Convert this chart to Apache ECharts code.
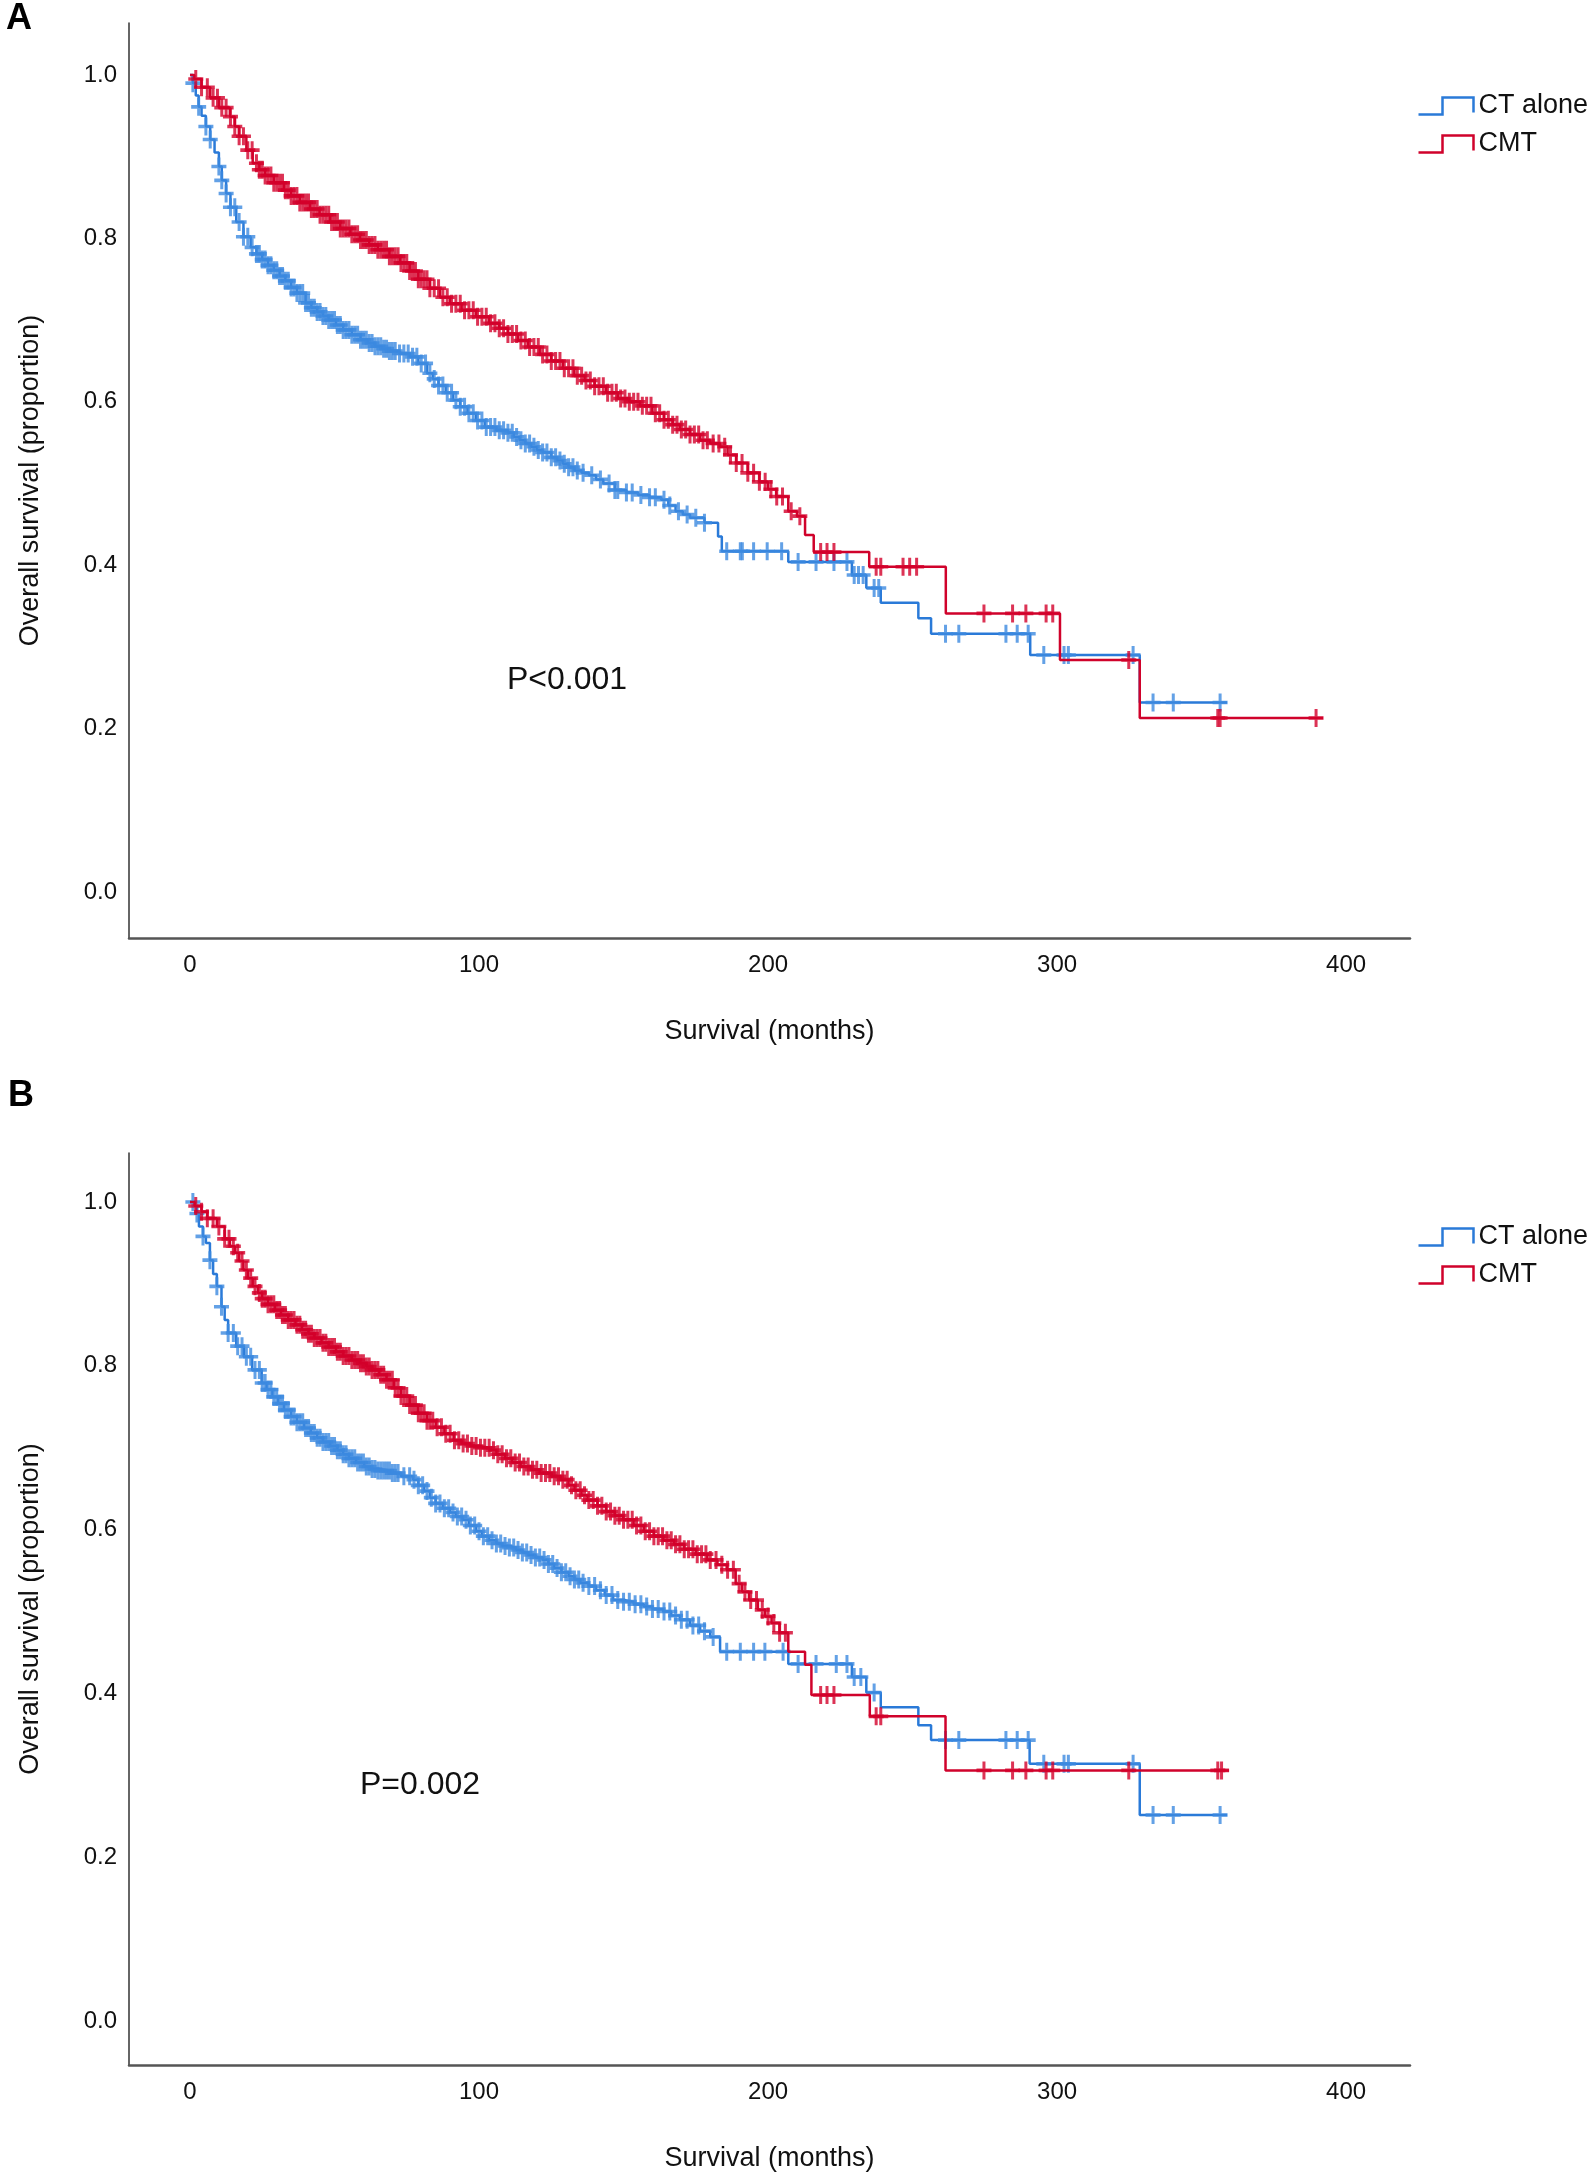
<!DOCTYPE html>
<html><head><meta charset="utf-8">
<script src="https://cdn.jsdelivr.net/npm/echarts@6/dist/echarts.min.js"></script>
<style>html,body{margin:0;padding:0;background:#fff}#chart{width:1594px;height:2174px}</style>
</head><body><div id="chart"></div>
<script>
// ---------- data ----------
const seriesNames = ['CT alone', 'CMT'];
const xTickValues = [0, 100, 200, 300, 400];
const yTickValues = [0, 0.2, 0.4, 0.6, 0.8, 1.0];
const xAxisTitle = 'Survival (months)';
const yAxisTitle = 'Overall survival (proportion)';
const panelLabels = ['A', 'B'];
const pValues = ['P<0.001', 'P=0.002'];

// Kaplan-Meier steps [months, survival] - panel A
const kmA_CT = [[0,1.0],[1,0.99],[2,0.975],[3,0.961],[4,0.95],[5.5,0.937],[7,0.921],[8.5,0.905],[10,0.888],[11,0.871],[12.5,0.855],[14,0.838],[16,0.82],[18.5,0.802],[21,0.789],[23,0.781],[25,0.774],[27,0.767],[29,0.761],[31,0.754],[33,0.748],[35,0.740],[37,0.733],[40,0.721],[42,0.715],[44,0.71],[46,0.705],[48,0.700],[50.5,0.694],[53,0.688],[56,0.682],[59,0.676],[61.5,0.672],[64,0.668],[66.5,0.665],[69,0.662],[72.5,0.659],[76,0.655],[79,0.647],[82,0.635],[84,0.628],[86,0.62],[88.5,0.611],[91,0.602],[93.5,0.594],[96,0.586],[99,0.577],[102,0.569],[106,0.565],[110,0.562],[112,0.557],[114,0.553],[116,0.549],[118,0.545],[120,0.541],[122,0.538],[125,0.532],[127,0.528],[129,0.524],[131,0.520],[133,0.516],[135.5,0.513],[138,0.510],[140.5,0.505],[143,0.5],[147,0.492],[151,0.489],[155,0.486],[159,0.483],[163,0.48],[165.5,0.473],[168,0.466],[170.5,0.462],[173,0.458],[178,0.452],[182.7,0.435],[184,0.417],[207,0.404],[229,0.388],[234,0.372],[239,0.354],[252,0.335],[256.4,0.316],[290.7,0.290],[328.6,0.232],[358.8,0.232]];
const kmA_CMT = [[0,1.0],[1.5,0.995],[4,0.985],[7,0.972],[10,0.96],[13.8,0.949],[15.5,0.937],[17,0.925],[19.5,0.908],[21.7,0.892],[24,0.884],[26,0.877],[29,0.868],[32.5,0.859],[35,0.852],[38,0.844],[41.5,0.836],[44.8,0.829],[48.5,0.820],[52,0.812],[55.5,0.805],[58.8,0.798],[62,0.792],[65,0.786],[69,0.778],[72.7,0.770],[76,0.760],[79,0.75],[83,0.739],[86.5,0.728],[90,0.720],[94,0.712],[99,0.704],[103.5,0.696],[107,0.690],[110,0.683],[113.5,0.675],[117,0.667],[121,0.658],[125,0.65],[129,0.641],[133,0.632],[136.5,0.626],[140,0.619],[144,0.611],[148,0.604],[152,0.600],[155.7,0.595],[160,0.586],[164,0.578],[167,0.572],[169.5,0.566],[173,0.560],[176.5,0.553],[180,0.549],[183.4,0.545],[186,0.535],[189,0.525],[193,0.513],[197,0.502],[200,0.493],[202.8,0.484],[207,0.466],[210,0.46],[212.8,0.437],[215.8,0.416],[235,0.398],[261.5,0.341],[301,0.284],[328.6,0.213],[392,0.213]];
// panel B
const kmB_CT = [[0,1.0],[1.6,0.995],[2.4,0.986],[3.1,0.97],[4.5,0.958],[5.5,0.95],[6.9,0.929],[8,0.912],[9.3,0.897],[10.9,0.872],[12,0.856],[13.2,0.84],[16,0.824],[18.6,0.811],[21.5,0.795],[24.8,0.779],[26.5,0.771],[28.5,0.762],[30.5,0.754],[32.5,0.746],[35,0.738],[37,0.731],[39.5,0.724],[41.8,0.718],[44,0.712],[46,0.707],[48.5,0.702],[51,0.697],[53,0.692],[55,0.687],[57.5,0.682],[60.3,0.677],[62.5,0.674],[65,0.672],[69.5,0.669],[73,0.665],[77.2,0.661],[79,0.654],[81,0.647],[83,0.639],[85,0.632],[87.5,0.626],[90,0.621],[92,0.616],[94.3,0.612],[96.5,0.605],[99,0.598],[101,0.592],[103.5,0.587],[106,0.583],[108,0.58],[110.5,0.578],[112.8,0.575],[115,0.572],[117,0.569],[119.5,0.566],[122,0.563],[124,0.558],[126,0.553],[128.5,0.548],[131,0.543],[133,0.539],[135,0.535],[138,0.531],[140.5,0.526],[143.5,0.520],[146.4,0.514],[150,0.512],[153.5,0.509],[157,0.506],[160,0.503],[163.7,0.500],[166.5,0.495],[169.5,0.49],[173,0.483],[176.5,0.476],[180,0.469],[183.4,0.451],[207,0.436],[229,0.420],[234,0.401],[239,0.383],[252,0.361],[256.4,0.343],[290.5,0.314],[328.6,0.2515],[358.8,0.2515]];
const kmB_CMT = [[0,1.0],[1.6,0.995],[4,0.988],[6,0.98],[9.3,0.970],[12,0.955],[13.8,0.946],[15.5,0.938],[17,0.928],[18.5,0.917],[20,0.907],[21.7,0.897],[23.5,0.889],[25,0.882],[27,0.875],[29.4,0.868],[31.5,0.862],[34,0.856],[36.5,0.850],[38.7,0.844],[41,0.839],[43,0.834],[45.5,0.828],[48,0.823],[50.5,0.817],[53,0.812],[56,0.807],[58.8,0.803],[61,0.799],[63,0.795],[65.5,0.789],[68,0.783],[70.5,0.773],[73,0.763],[76,0.752],[78.9,0.742],[82,0.733],[85,0.725],[88,0.717],[91.2,0.709],[94,0.705],[97,0.702],[100,0.700],[103.6,0.697],[106,0.692],[109,0.687],[111.5,0.682],[114.4,0.677],[118,0.673],[121,0.669],[125,0.665],[128.3,0.661],[131,0.654],[133,0.648],[135.5,0.642],[137.5,0.636],[141,0.629],[144,0.622],[147,0.617],[149.9,0.612],[153.5,0.605],[157,0.598],[160.5,0.592],[163.8,0.587],[167.5,0.582],[171,0.576],[175,0.570],[179,0.563],[182.5,0.557],[185.7,0.551],[188.8,0.534],[191,0.524],[193.4,0.514],[196.5,0.502],[199,0.494],[201.2,0.486],[204,0.474],[207,0.451],[212.8,0.435],[215,0.398],[235.2,0.372],[261.4,0.306],[359.5,0.306]];

// censoring times (months)
const censorA_CT = [1,3,5.5,7,10,11,12.5,14,15.5,17,18.5,20,21.5,23,24,25,26,27,28,29,30,31,32,33,34,35,36,37,38,39,40,41,42,43,44,45,46,47,48,49,50,51,52,53,54,55,56,57,58,59,60,61,62,63,64,65,66,67,68,69,70,71,72.5,74,75.5,77,78.5,80,81.5,83,84.5,86,87.5,89,90.5,92,93.5,95,96.5,98,99.5,101,102.5,104,105.5,107,108.5,110,111.5,113,114.5,116,117.5,119,120.5,122,123.5,125,126.5,128,129.5,131,132.5,134,136,139,142,145,147,148,151,153,156,159,161,164,166,169,172,175,178,185.7,190.4,191.1,195,199.7,204.7,210.4,216.6,222.8,227.3,229.8,231.3,232.9,236.7,238.3,261.4,266,282.3,286.2,290,295.4,302.4,303.9,326.3,333.2,340.2,356.4];
const censorA_CMT = [2,4,6,8,9.5,11,12.5,14,15.5,17,18.5,20,21.5,23,24,25,26,27,28,29,30,31,32,33,34,35,36,37,38,39,40,41,42,43,44,45,46,47,48,49,50,51,52,53,54,55,56,57,58,59,60,61,62,63,64,65,66,67,68,69,70,71,72,73,74,75,76,77,78,79,80,81,82,83,84.5,86,87.5,89,90.5,92,93.5,95,96.5,98,99.5,101,102.5,104,105.5,107,108.5,110,111.5,113,114.5,116,117.5,119,120.5,122,123.5,125,126.5,128,129.5,131,132.5,134,135.5,137,138.5,140,141.5,143,144.5,146,147.5,149,150.5,152,153.5,155,156.5,158,159.5,161,162.5,164,165.5,167,168.5,170,171.5,173,174.5,176,177.5,179,181,183,185,187,189,191,193,195,197,199,201,203,205,208,211,218.2,220.4,222.8,237.4,239,246.7,249,251.4,274.7,284.6,289.2,296.2,298.5,324.8,355.6,356.4,389.6];
const censorB_CT = [1,2.4,4.5,6.9,9.3,10.9,13.2,15,16.5,18,19.5,21,22.5,24,25,26,27,28,29,30,31,32,33,34,35,36,37,38,39,40,41,42,43,44,45,46,47,48,49,50,51,52,53,54,55,56,57,58,59,60,61,62,63,64,65,66,67,68,69,70,71,72,74,76,77.5,79,80.5,82,83.5,85,86.5,88,89.5,91,92.5,94,95.5,97,98.5,100,101.5,103,104.5,106,107.5,109,110.5,112,113.5,115,116.5,118,119.5,121,122.5,124,125.5,127,128.5,130,131.5,133,134.5,136,138,140,142,144,146,148,150,152,154,156,158,160,162,164,166,168,170,172,174,176,178,181,185.7,190.4,195,198.9,205.2,210.4,216.6,223.6,227.3,229.8,232.1,236.7,261.4,266,282.3,286.2,290,295.4,302.4,303.9,326.3,333.2,340.2,356.4];
const censorB_CMT = [2,4,6,8,10,12,13.5,15,16.5,18,19.5,21,22.5,24,25,26,27,28,29,30,31,32,33,34,35,36,37,38,39,40,41,42,43,44,45,46,47,48,49,50,51,52,53,54,55,56,57,58,59,60,61,62,63,64,65,66,67,68,69,70,71,72,73,74,75,76,77,78,79,80,81,82,83,84,85.5,87,88.5,90,91.5,93,94.5,96,97.5,99,100.5,102,103.5,105,106.5,108,109.5,111,112.5,114,115.5,117,118.5,120,121.5,123,124.5,126,127.5,129,130.5,132,133.5,135,136.5,138,139.5,141,142.5,144,145.5,147,148.5,150,151.5,153,154.5,156,157.5,159,160.5,162,163.5,165,166.5,168,169.5,171,172.5,174,175.5,177,178.5,180,182,184,186,188,190,192,194,196,198,200,202,204,206,218.2,220.4,222.8,237.4,239,274.7,284.6,289.2,296.2,298.5,324.8,355.6,356.9];

// ---------- helpers ----------
function survivalAt(curve, t) {
  let s = curve[0][1];
  for (const [ti, si] of curve) { if (ti <= t) s = si; else break; }
  return s;
}
function censorPoints(curve, times) { return times.map(t => [t, survivalAt(curve, t)]); }

const BLUE_LINE = '#2a7ad8', BLUE_MARK = '#3c8ae0';
const RED_LINE = '#d0022b', RED_MARK = '#d3002a';
const FONT = "'Liberation Sans', Arial, sans-serif";
const CROSS = 'path://M4,0 H6 V4 H10 V6 H6 V10 H4 V6 H0 V4 H4 Z';
const LEGEND_ICON = 'path://M0,17 L24,17 L24,0 L55,0 L55,15';

const panels = [
  {ct: kmA_CT, cmt: kmA_CMT, cCT: censorA_CT, cCMT: censorA_CMT, top: 23, height: 915, ymin: -0.0563, ymax: 1.0636},
  {ct: kmB_CT, cmt: kmB_CMT, cCT: censorB_CT, cCMT: censorB_CMT, top: 1153, height: 912, ymin: -0.0537, ymax: 1.0598}
];

const grid = [], xAxis = [], yAxis = [], series = [];
panels.forEach((p, i) => {
  grid.push({left: 129, top: p.top, width: 1281, height: p.height, outerBoundsMode: 'none'});
  xAxis.push({
    gridIndex: i, type: 'value', min: -21.1, max: 422.1,
    name: xAxisTitle, nameLocation: 'middle', nameGap: 80,
    nameTextStyle: {fontFamily: FONT, fontSize: 27, color: '#111'},
    axisLine: {show: true, onZero: false, lineStyle: {color: '#555', width: 2.5}},
    axisTick: {show: false}, splitLine: {show: false},
    axisLabel: {customValues: xTickValues, fontFamily: FONT, fontSize: 24, color: '#111', margin: 15}
  });
  yAxis.push({
    gridIndex: i, type: 'value', min: p.ymin, max: p.ymax,
    name: yAxisTitle, nameLocation: 'middle', nameGap: 85,
    nameTextStyle: {fontFamily: FONT, fontSize: 27, color: '#111'},
    axisLine: {show: true, onZero: false, lineStyle: {color: '#333', width: 1.5}},
    axisTick: {show: false}, splitLine: {show: false},
    axisLabel: {customValues: yTickValues, formatter: v => v.toFixed(1), fontFamily: FONT, fontSize: 24, color: '#111', margin: 12}
  });
  series.push(
    {name: seriesNames[0], type: 'line', step: 'end', xAxisIndex: i, yAxisIndex: i, data: p.ct, showSymbol: false, symbol: 'none',
     lineStyle: {color: BLUE_LINE, width: 2.5}, itemStyle: {color: BLUE_LINE}, animation: false, z: 2},
    {name: seriesNames[0], type: 'scatter', xAxisIndex: i, yAxisIndex: i, data: censorPoints(p.ct, p.cCT),
     symbol: CROSS, symbolSize: [15, 18], itemStyle: {color: BLUE_MARK}, animation: false, z: 2},
    {name: seriesNames[1], type: 'line', step: 'end', xAxisIndex: i, yAxisIndex: i, data: p.cmt, showSymbol: false, symbol: 'none',
     lineStyle: {color: RED_LINE, width: 2.5}, itemStyle: {color: RED_LINE}, animation: false, z: 3},
    {name: seriesNames[1], type: 'scatter', xAxisIndex: i, yAxisIndex: i, data: censorPoints(p.cmt, p.cCMT),
     symbol: CROSS, symbolSize: [15, 18], itemStyle: {color: RED_MARK}, animation: false, z: 3}
  );
});

function legendFor(top) {
  return {
    orient: 'vertical', left: 1411, top: top, itemWidth: 55, itemHeight: 17, itemGap: 8,
    icon: LEGEND_ICON, selectedMode: false,
    textStyle: {fontFamily: FONT, fontSize: 27, color: '#111', lineHeight: 30},
    data: [
      {name: seriesNames[0], icon: LEGEND_ICON, itemStyle: {color: 'none', borderColor: BLUE_LINE, borderWidth: 2.5}},
      {name: seriesNames[1], icon: LEGEND_ICON, itemStyle: {color: 'none', borderColor: RED_LINE, borderWidth: 2.5}}
    ]
  };
}

const option = {
  backgroundColor: '#fff',
  animation: false,
  grid, xAxis, yAxis, series,
  legend: [legendFor(86), legendFor(1217)],
  graphic: [
    {type: 'text', left: 6, top: 1, style: {text: panelLabels[0], font: "bold 36px " + FONT, fill: '#000'}},
    {type: 'text', left: 8, top: 1078, style: {text: panelLabels[1], font: "bold 36px " + FONT, fill: '#000'}},
    {type: 'text', left: 507, top: 664, style: {text: pValues[0], font: "32px " + FONT, fill: '#111'}},
    {type: 'text', left: 360, top: 1769, style: {text: pValues[1], font: "32px " + FONT, fill: '#111'}}
  ]
};
const chart = echarts.init(document.getElementById('chart'), null, {renderer: 'canvas'});
chart.setOption(option);
</script></body></html>
